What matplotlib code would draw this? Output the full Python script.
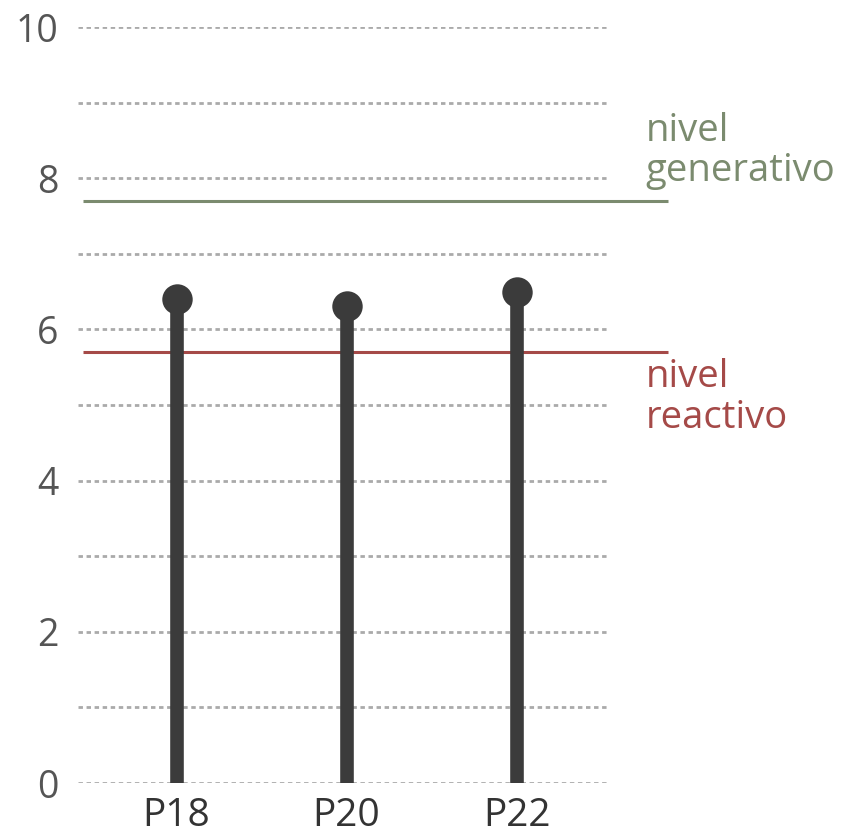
import matplotlib.pyplot as plt

# data
categories = ["P18", "P20", "P22"]
values = [6.40, 6.31, 6.49]
level_names = ["nivel\ngenerativo", "nivel\nreactivo"]
level_values = [7.70, 5.70]
level_colors = ["#7b8b6f", "#a54a48"]
y_ticks = [0, 2, 4, 6, 8, 10]
grid_ticks = list(range(0, 11))

FONT = ["Open Sans", "DejaVu Sans"]

W, H = 841, 838
fig = plt.figure(figsize=(W / 100, H / 100), dpi=100)

# axes placed so that y=0 -> 783px, y=10 -> 27px, category spacing 170px
x0, x1 = -0.58, 3.0
left_px, bottom_px, top_px = 78, 783, 27
width_px = (x1 - x0) * 170
ax = fig.add_axes([left_px / W, (H - bottom_px) / H, width_px / W, (bottom_px - top_px) / H])
ax.set_xlim(x0, x1)
ax.set_ylim(0, 10)

xs = list(range(len(categories)))

# dotted gridlines
ax.hlines(grid_ticks, -0.58, 2.54, colors="#aaaaaa", linewidth=2,
          linestyles=(0, (1.6, 1.3)), zorder=1)

# reference levels
for val, col in zip(level_values, level_colors):
    ax.hlines(val, -0.55, 2.89, colors=col, linewidth=2.2, zorder=2)

ax.text(2.76, 8.36, level_names[0], color=level_colors[0], fontsize=27.5,
        family=FONT, va="center", ha="left", linespacing=1.08)
ax.text(2.76, 5.10, level_names[1], color=level_colors[1], fontsize=27.5,
        family=FONT, va="center", ha="left", linespacing=1.08)

# lollipops
ax.vlines(xs, 0, values, colors="#3b3b3b", linewidth=9.8, zorder=3, clip_on=False)
ax.scatter(xs, values, s=480, color="#3b3b3b", zorder=4, clip_on=False, linewidths=0)

for s in ax.spines.values():
    s.set_visible(False)
ax.set_yticks(y_ticks)
ax.set_yticklabels([str(t) for t in y_ticks], fontsize=27, color="#555555",
                   family=FONT)
ax.set_xticks(xs)
ax.set_xticklabels(categories, fontsize=28, color="#333333",
                   family=FONT, fontweight="medium")
ax.tick_params(axis="y", length=0, pad=14)
ax.tick_params(axis="x", length=0, pad=10)

fig.savefig("out.png", dpi=100)
